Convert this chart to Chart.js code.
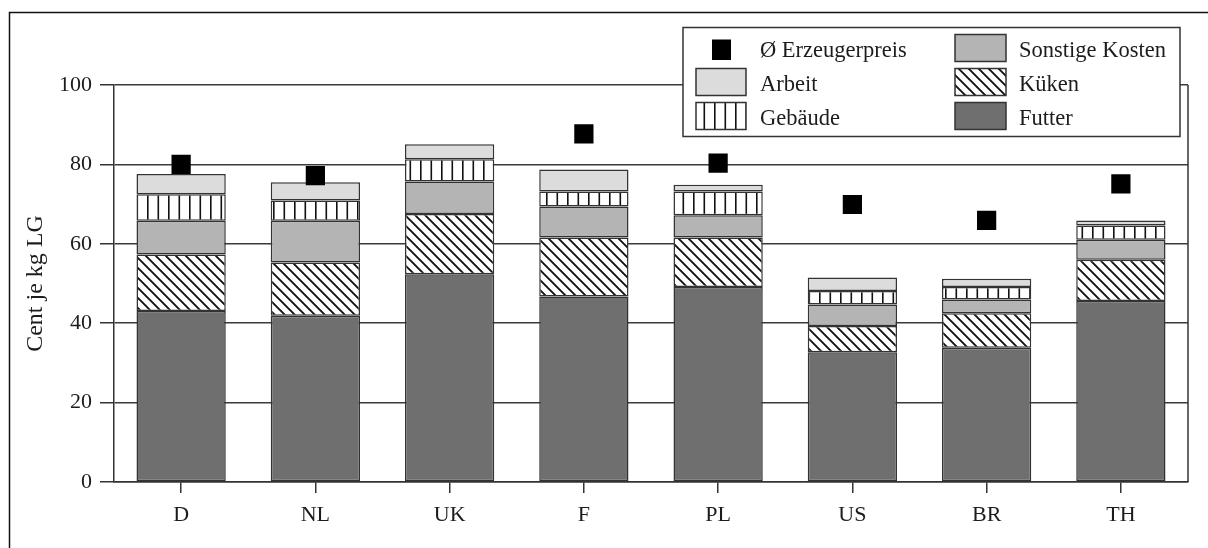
<!DOCTYPE html>
<html><head><meta charset="utf-8">
<script src="https://cdn.jsdelivr.net/npm/chart.js@4/dist/chart.umd.min.js"></script>
<style>html,body{margin:0;padding:0;background:#fff;} canvas{display:block;}</style>
</head><body>
<canvas id="c" width="1208" height="548"></canvas>
<script>
const categories = ['D', 'NL', 'UK', 'F', 'PL', 'US', 'BR', 'TH'];
const futter   = [43.1, 41.9, 52.3, 46.7, 49.1, 32.7, 33.8, 45.6];
const kueken   = [14.2, 13.4, 15.2, 14.9, 12.5, 6.6, 8.7, 10.4];
const sonstige = [8.5, 10.5, 8.2, 7.8, 5.6, 5.4, 3.5, 5.0];
const gebaeude = [6.7, 5.1, 5.6, 3.8, 6.0, 3.4, 3.1, 3.6];
const arbeit   = [5.1, 4.6, 3.8, 5.5, 1.7, 3.4, 2.1, 1.3];
const erzeugerpreis = [80.0, 77.2, null, 87.7, 80.3, 69.9, 65.9, 75.1];
const yTickValues = [0, 20, 40, 60, 80, 100];
const seriesNames = ['Futter', 'Küken', 'Sonstige Kosten', 'Gebäude', 'Arbeit'];
const priceName = 'Ø Erzeugerpreis';
const yTitle = 'Cent je kg LG';

const FONT = '"Liberation Serif", "Times New Roman", serif';
const TXT = '#1c1c1c';
const LINE = '#333333';

function diagPattern() {
  const s = 10, c = document.createElement('canvas');
  c.width = s; c.height = s;
  const g = c.getContext('2d');
  g.fillStyle = '#fff'; g.fillRect(0, 0, s, s);
  g.strokeStyle = '#111'; g.lineWidth = 1.9;
  g.beginPath();
  g.moveTo(-2, -2); g.lineTo(s + 2, s + 2);
  g.moveTo(-2, s - 2); g.lineTo(2, s + 2);
  g.moveTo(s - 2, -2); g.lineTo(s + 2, 2);
  g.stroke();
  return g.createPattern(c, 'repeat');
}
function vertPattern() {
  const w = 21, h = 4, c = document.createElement('canvas');
  c.width = w; c.height = h;
  const g = c.getContext('2d');
  g.fillStyle = '#fff'; g.fillRect(0, 0, w, h);
  g.fillStyle = '#111';
  g.fillRect(0, 0, 1.6, h);
  g.fillRect(10.5, 0, 1.6, h);
  return g.createPattern(c, 'repeat');
}
const pDiag = diagPattern();
const pVert = vertPattern();
const fills = ['#6f6f6f', pDiag, '#b4b4b4', pVert, '#dcdcdc'];
const seriesData = [futter, kueken, sonstige, gebaeude, arbeit];

const barDatasets = seriesNames.map((n, i) => ({
  type: 'bar', label: n, data: seriesData[i], backgroundColor: fills[i],
  borderColor: LINE, borderWidth: 1.5, borderSkipped: false,
  categoryPercentage: 1.0, barPercentage: 0.665, stack: 'costs', order: 2
}));
const priceDataset = {
  type: 'line', label: priceName, data: erzeugerpreis, showLine: false,
  pointStyle: 'rect', pointRadius: 13.6, pointHoverRadius: 13.6,
  backgroundColor: '#000', borderColor: '#000', borderWidth: 0,
  stack: 'price', order: 0
};

const framePlugin = {
  id: 'frame',
  beforeDraw(chart) {
    const ctx = chart.ctx;
    ctx.save();
    ctx.strokeStyle = '#111'; ctx.lineWidth = 1.5;
    ctx.beginPath();
    ctx.moveTo(9.5, 548); ctx.lineTo(9.5, 12.5); ctx.lineTo(1208, 12.5);
    ctx.stroke();
    ctx.restore();
  },
  afterDatasetsDraw(chart) {
    const {ctx, chartArea: a} = chart;
    ctx.save();
    ctx.strokeStyle = LINE; ctx.lineWidth = 1.5;
    ctx.beginPath();
    ctx.moveTo(a.right, a.top); ctx.lineTo(a.right, a.bottom);
    ctx.stroke();
    ctx.restore();
  }
};

const legendPlugin = {
  id: 'boxLegend',
  afterDraw(chart) {
    const ctx = chart.ctx;
    ctx.save();
    ctx.fillStyle = '#fff';
    ctx.fillRect(683, 27.5, 497, 109);
    ctx.strokeStyle = LINE; ctx.lineWidth = 1.5;
    ctx.strokeRect(683, 27.5, 497, 109);
    ctx.fillStyle = '#000';
    ctx.fillRect(712, 39.5, 19, 20.5);
    const sw = (x, y, w, h, f) => {
      ctx.fillStyle = f; ctx.fillRect(x, y, w, h);
      ctx.strokeStyle = LINE; ctx.lineWidth = 1.5; ctx.strokeRect(x, y, w, h);
    };
    sw(696, 68.5, 50, 27, fills[4]);
    sw(696, 102.5, 50, 27, fills[3]);
    sw(955, 34.5, 51, 27, fills[2]);
    sw(955, 68.5, 51, 27, fills[1]);
    sw(955, 102.5, 51, 27, fills[0]);
    ctx.fillStyle = TXT;
    ctx.font = '22.5px ' + FONT;
    ctx.textBaseline = 'alphabetic';
    ctx.textAlign = 'left';
    ctx.fillText(priceName, 760, 56.5);
    ctx.fillText(seriesNames[4], 760, 91);
    ctx.fillText(seriesNames[3], 760, 124.5);
    ctx.fillText(seriesNames[2], 1019, 56.5);
    ctx.fillText(seriesNames[1], 1019, 91);
    ctx.fillText(seriesNames[0], 1019, 124.5);
    ctx.restore();
  }
};

new Chart(document.getElementById('c'), {
  data: { labels: categories, datasets: [priceDataset, ...barDatasets] },
  options: {
    responsive: false, animation: false, devicePixelRatio: 1,
    layout: { padding: { left: 0, right: 20, top: 85, bottom: 0 } },
    plugins: { legend: { display: false }, tooltip: { enabled: false } },
    scales: {
      x: {
        stacked: true,
        offset: true,
        grid: { display: true, drawOnChartArea: false, drawTicks: true, tickLength: 11,
                offset: false, color: LINE, lineWidth: 1.5 },
        border: { display: true, color: LINE, width: 1.5 },
        ticks: { color: TXT, font: { family: FONT, size: 22 }, padding: 9, maxRotation: 0 },
        afterFit(s) { s.height = 66; }
      },
      y: {
        stacked: true, min: 0, max: 100,
        afterBuildTicks(s) { s.ticks = yTickValues.map(v => ({ value: v })); },
        grid: { color: '#3a3a3a', lineWidth: 1.5, tickLength: 14, tickColor: LINE },
        border: { display: true, color: LINE, width: 1.5 },
        ticks: { color: TXT, font: { family: FONT, size: 22 }, padding: 8 },
        title: { display: true, text: yTitle, color: TXT,
                 font: { family: FONT, size: 24 }, padding: { top: 21, bottom: 0 } },
        afterFit(s) { s.width = 114; }
      }
    }
  },
  plugins: [framePlugin, legendPlugin]
});
</script>
</body></html>
